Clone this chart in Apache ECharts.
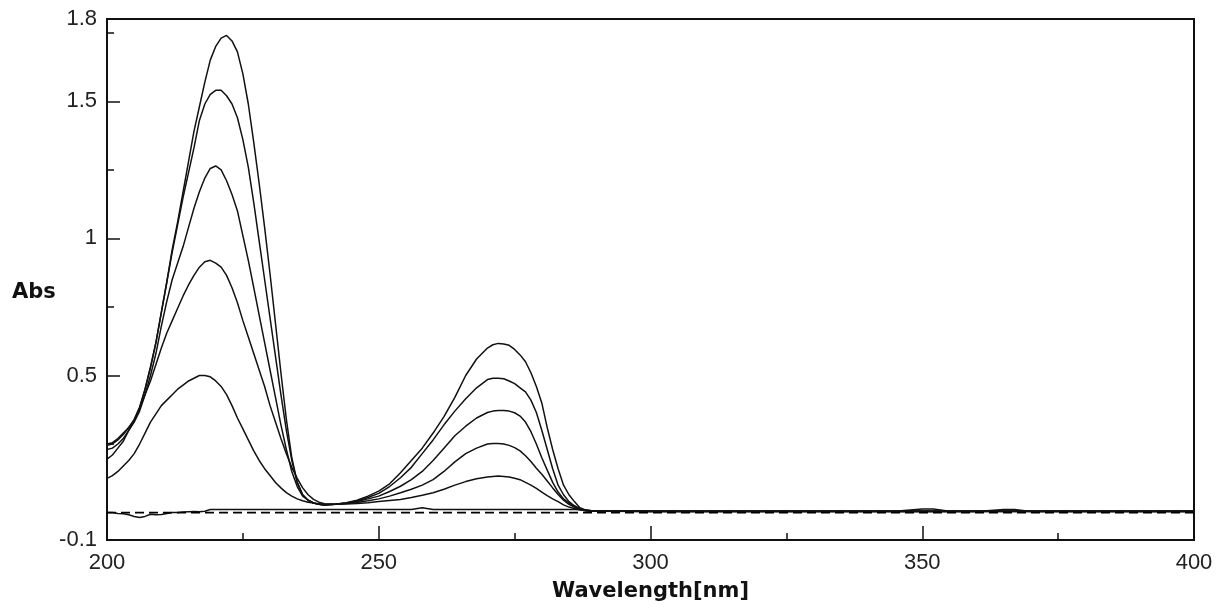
<!DOCTYPE html>
<html>
<head>
<meta charset="utf-8">
<script src="https://cdn.jsdelivr.net/npm/echarts@6.0.0/dist/echarts.min.js"></script>
<style>
html,body{margin:0;padding:0;background:#fff;}
#chart{width:1218px;height:610px;}
</style>
</head>
<body>
<div id="chart"></div>
<script>
// Wavelength grid (nm)
const wavelength = [
  200,201,202,203,204,205,206,207,208,209,210,211,212,213,214,215,216,217,218,219,
  220,221,222,223,224,225,226,227,228,229,230,231,232,233,234,235,236,237,238,239,240,
  242,244,246,248,250,252,254,256,258,260,262,264,266,268,
  270,271,272,273,274,275,276,277,278,279,280,281,282,283,284,285,286,287,288,289,290,
  300,310,320,330,340,345,350,352,355,360,365,367,370,380,390,400
];

const yLabelValues = [-0.1, 0.5, 1, 1.5, 1.8];
const yMajorTicks = [0.5, 1, 1.5];
const yMinorTicks = [0.25, 0.75, 1.25, 1.75];

// Absorbance spectra (5 concentrations)
const specA = [
  0.25,0.255,0.27,0.29,0.31,0.335,0.38,0.45,0.53,0.62,
  0.73,0.84,0.96,1.06,1.17,1.28,1.39,1.48,1.57,1.65,
  1.70,1.73,1.74,1.72,1.68,1.60,1.49,1.35,1.20,1.04,
  0.87,0.69,0.51,0.34,0.20,0.11,0.065,0.045,0.035,0.03,0.028,
  0.03,0.036,0.045,0.06,0.078,0.105,0.145,0.19,0.235,0.29,0.35,0.42,0.50,0.56,
  0.60,0.612,0.617,0.615,0.61,0.595,0.575,0.55,0.51,0.46,0.40,0.31,0.23,0.16,0.10,0.065,0.04,0.018,0.01,0.008,0.007,
  0.005,0.005,0.005,0.005,0.005,0.005,0.013,0.013,0.005,0.005,0.005,0.005,0.005,0.005,0.005,0.005
];
const specB = [
  0.245,0.25,0.265,0.285,0.31,0.34,0.385,0.45,0.53,0.62,
  0.73,0.84,0.95,1.05,1.15,1.24,1.33,1.43,1.49,1.525,
  1.54,1.54,1.52,1.49,1.44,1.36,1.26,1.13,0.99,0.85,
  0.71,0.57,0.43,0.30,0.19,0.11,0.065,0.045,0.035,0.03,0.028,
  0.03,0.035,0.042,0.055,0.07,0.095,0.127,0.165,0.215,0.265,0.32,0.37,0.415,0.455,
  0.485,0.49,0.49,0.488,0.48,0.47,0.455,0.44,0.41,0.365,0.30,0.23,0.16,0.10,0.065,0.04,0.025,0.014,0.009,0.007,0.006,
  0.004,0.004,0.004,0.004,0.004,0.004,0.004,0.004,0.004,0.004,0.011,0.011,0.004,0.004,0.004,0.004
];
const specC = [
  0.23,0.235,0.25,0.27,0.30,0.33,0.37,0.43,0.50,0.58,
  0.68,0.77,0.85,0.91,0.97,1.04,1.11,1.17,1.22,1.255,
  1.264,1.25,1.21,1.16,1.10,1.01,0.92,0.82,0.72,0.62,
  0.52,0.42,0.32,0.23,0.15,0.095,0.06,0.045,0.035,0.03,0.028,
  0.03,0.034,0.04,0.05,0.06,0.077,0.096,0.12,0.15,0.19,0.235,0.28,0.315,0.345,
  0.365,0.37,0.372,0.372,0.37,0.364,0.352,0.33,0.295,0.25,0.20,0.155,0.11,0.075,0.05,0.035,0.022,0.013,0.008,0.007,0.006,
  0.006,0.006,0.006,0.006,0.006,0.006,0.006,0.006,0.006,0.006,0.006,0.006,0.006,0.006,0.006,0.006
];
const specD = [
  0.195,0.21,0.235,0.26,0.30,0.335,0.38,0.43,0.48,0.54,
  0.60,0.655,0.70,0.745,0.79,0.83,0.865,0.895,0.915,0.92,
  0.91,0.895,0.865,0.82,0.765,0.70,0.64,0.58,0.52,0.46,
  0.39,0.33,0.27,0.215,0.165,0.125,0.09,0.065,0.048,0.038,0.032,
  0.03,0.033,0.037,0.043,0.05,0.06,0.072,0.085,0.10,0.12,0.15,0.185,0.215,0.235,
  0.25,0.252,0.252,0.25,0.245,0.237,0.225,0.207,0.186,0.162,0.14,0.115,0.09,0.066,0.045,0.03,0.02,0.012,0.008,0.006,0.006,
  0.004,0.004,0.004,0.004,0.004,0.004,0.004,0.004,0.004,0.004,0.004,0.004,0.004,0.004,0.004,0.004
];
const specE = [
  0.125,0.135,0.15,0.17,0.19,0.215,0.25,0.29,0.33,0.36,
  0.39,0.41,0.43,0.45,0.465,0.48,0.49,0.50,0.50,0.495,
  0.48,0.46,0.43,0.39,0.345,0.305,0.265,0.225,0.19,0.16,
  0.135,0.11,0.09,0.073,0.06,0.05,0.043,0.038,0.035,0.032,0.03,
  0.03,0.031,0.033,0.036,0.04,0.044,0.048,0.055,0.063,0.072,0.085,0.10,0.113,0.123,
  0.13,0.132,0.133,0.132,0.13,0.125,0.12,0.11,0.10,0.088,0.075,0.062,0.05,0.04,0.028,0.02,0.015,0.01,0.007,0.006,0.006,
  0.005,0.005,0.005,0.005,0.005,0.005,0.005,0.005,0.005,0.005,0.005,0.005,0.005,0.005,0.005,0.005
];
// Blank / baseline scan
const specBlank = [
  0.0,0.0,-0.003,-0.004,-0.008,-0.014,-0.018,-0.014,-0.006,-0.008,
  -0.007,-0.003,0.0,0.0,0.002,0.003,0.004,0.003,0.005,0.011,
  0.011,0.011,0.011,0.011,0.011,0.011,0.011,0.011,0.011,0.011,
  0.011,0.011,0.011,0.011,0.011,0.011,0.011,0.011,0.011,0.011,0.011,
  0.011,0.011,0.011,0.011,0.011,0.011,0.011,0.011,0.018,0.011,0.011,0.011,0.011,0.011,
  0.011,0.011,0.011,0.011,0.011,0.011,0.011,0.011,0.011,0.011,0.011,0.011,0.011,0.011,0.011,0.011,0.011,0.01,0.008,0.006,0.005,
  0.004,0.004,0.004,0.004,0.004,0.004,0.004,0.004,0.004,0.004,0.004,0.004,0.004,0.004,0.004,0.004
];
// Zero reference line
const zeroLineX = [200, 400];
const zeroLineY = [0, 0];

const LINE = '#111';
function mk(name, vals, dashed) {
  const xs = vals.length === 2 ? zeroLineX : wavelength;
  return {
    name: name,
    type: 'line',
    xAxisIndex: 0,
    yAxisIndex: 0,
    showSymbol: false,
    symbol: 'none',
    silent: true,
    data: xs.map((w, i) => [w, vals[i]]),
    lineStyle: { color: dashed ? '#000' : LINE, width: dashed ? 1.6 : 1.5, type: dashed ? [9, 5] : 'solid' },
    z: 3
  };
}

const chart = echarts.init(document.getElementById('chart'), null, { renderer: 'canvas' });
const tickFont = { fontFamily: 'Liberation Sans, Arial, sans-serif', fontSize: 22, color: '#222' };

chart.setOption({
  animation: false,
  backgroundColor: '#fff',
  title: {
    text: 'Abs',
    left: 12,
    top: 282,
    padding: 0,
    textStyle: { fontFamily: 'DejaVu Sans', fontWeight: 'bold', fontSize: 21, color: '#111' }
  },
  grid: {
    left: 107, right: 24, top: 19, bottom: 70,
    show: true, borderColor: '#111', borderWidth: 2, backgroundColor: 'transparent'
  },
  xAxis: [{
    type: 'value', min: 200, max: 400, interval: 50,
    position: 'bottom',
    axisLine: { show: true, onZero: false, lineStyle: { color: '#111', width: 2 } },
    axisTick: { show: true, inside: true, length: 14, lineStyle: { color: '#111', width: 1.5 } },
    minorTick: { show: true, splitNumber: 2, length: 7, lineStyle: { color: '#111', width: 1.5 } },
    axisLabel: Object.assign({ margin: 12, showMinLabel: true, showMaxLabel: true, hideOverlap: false }, tickFont),
    splitLine: { show: false },
    name: 'Wavelength[nm]',
    nameLocation: 'middle',
    nameGap: 41,
    nameTextStyle: { fontFamily: 'DejaVu Sans', fontWeight: 'bold', fontSize: 21, color: '#111' }
  }],
  yAxis: [{
    type: 'value', min: -0.1, max: 1.8,
    position: 'left',
    axisLine: { show: true, onZero: false, lineStyle: { color: '#111', width: 2 } },
    axisTick: { show: true, inside: true, length: 13, customValues: yMajorTicks, lineStyle: { color: '#111', width: 1.5 } },
    axisLabel: Object.assign({ margin: 10, customValues: yLabelValues, showMinLabel: true, showMaxLabel: true, hideOverlap: false }, tickFont),
    splitLine: { show: false }
  }, {
    type: 'value', min: -0.1, max: 1.8,
    position: 'left',
    axisLine: { show: false },
    axisTick: { show: true, inside: true, length: 7, customValues: yMinorTicks, lineStyle: { color: '#111', width: 1.5 } },
    axisLabel: { show: false },
    splitLine: { show: false }
  }],
  series: [
    mk('A', specA),
    mk('B', specB),
    mk('C', specC),
    mk('D', specD),
    mk('E', specE),
    mk('Blank', specBlank),
    mk('Zero', zeroLineY, true)
  ]
});
</script>
</body>
</html>
